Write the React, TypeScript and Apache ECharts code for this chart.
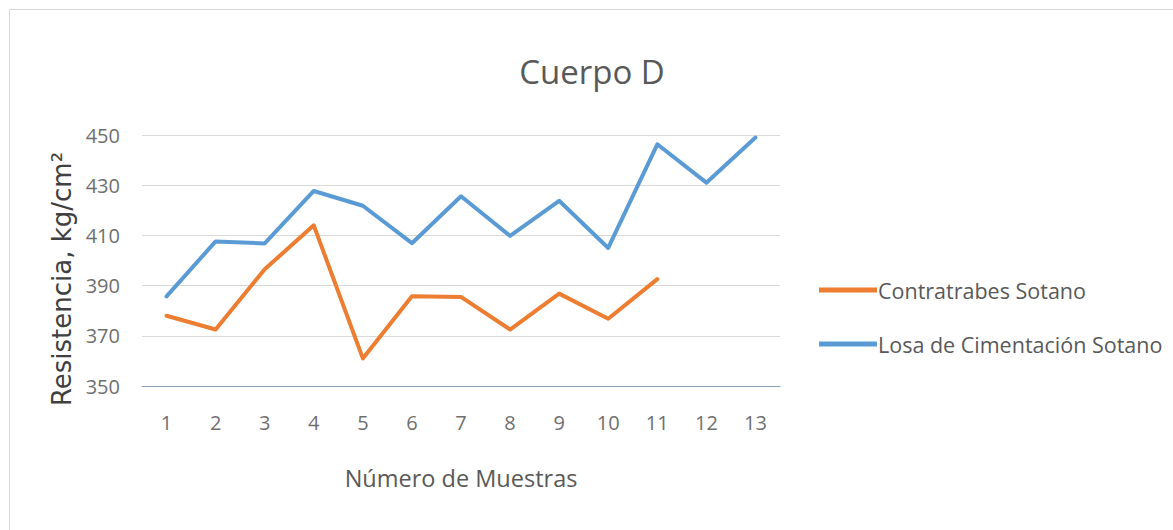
import React, { useEffect, useRef } from "react";
import * as echarts from "echarts";

const categories = ["1", "2", "3", "4", "5", "6", "7", "8", "9", "10", "11", "12", "13"];
const contratrabes = [378, 372.5, 396.5, 414, 361, 385.8, 385.5, 372.5, 386.8, 376.8, 392.6];
const losa = [385.7, 407.6, 406.8, 427.7, 421.8, 406.9, 425.6, 409.8, 423.8, 405, 446.3, 431, 449];
const yTicks = { min: 350, max: 450, interval: 20 };

const labelFont = "'Open Sans', 'Noto Sans', sans-serif";

export default function App() {
  const ref = useRef<HTMLDivElement>(null);
  useEffect(() => {
    if (!ref.current) return;
    const chart = echarts.init(ref.current, null, { renderer: "svg" });
    chart.setOption({
      animation: false,
      backgroundColor: "#ffffff",
      graphic: [
        {
          type: "rect",
          shape: { x: 9.5, y: 9.5, width: 1170, height: 530 },
          style: { fill: "none", stroke: "#d9d9d9", lineWidth: 1 },
          silent: true,
        },
        {
          type: "text",
          x: 592,
          y: 71,
          style: {
            text: "Cuerpo D",
            fontFamily: labelFont,
            fontSize: 33,
            fill: "#595959",
            textAlign: "center",
            textVerticalAlign: "middle",
          },
        },
        {
          type: "text",
          x: 62,
          y: 279,
          rotation: Math.PI / 2,
          style: {
            text: "Resistencia, kg/cm²",
            fontFamily: "'DejaVu Sans', Verdana, sans-serif",
            fontSize: 26,
            fill: "#404040",
            textAlign: "center",
            textVerticalAlign: "middle",
          },
        },
      ],
      grid: { left: 142, right: 393, top: 135, bottom: 144, containLabel: false },
      legend: {
        orient: "vertical",
        left: 814,
        top: 274,
        itemGap: 32,
        itemWidth: 58,
        itemHeight: 5,
        icon: "rect",
        textStyle: { fontFamily: labelFont, fontSize: 21.5, color: "#595959", padding: [0, 0, 0, -4] },
        data: ["Contratrabes Sotano", "Losa de Cimentación Sotano"],
      },
      xAxis: {
        type: "category",
        data: categories,
        boundaryGap: true,
        axisLine: { show: true, lineStyle: { color: "#8a9fb5", width: 1 } },
        axisTick: { show: false },
        axisLabel: { fontFamily: labelFont, fontSize: 20, color: "#6f6f6f", margin: 26 },
        name: "Número de Muestras",
        nameLocation: "middle",
        nameGap: 80,
        nameTextStyle: { fontFamily: labelFont, fontSize: 23.5, color: "#595959" },
      },
      yAxis: {
        type: "value",
        min: yTicks.min,
        max: yTicks.max,
        interval: yTicks.interval,
        axisLine: { show: false },
        axisTick: { show: false },
        splitLine: { lineStyle: { color: "#d9d9d9", width: 1 } },
        axisLabel: { fontFamily: labelFont, fontSize: 20, color: "#6f6f6f", margin: 22 },
      },
      series: [
        {
          name: "Contratrabes Sotano",
          type: "line",
          data: contratrabes,
          symbol: "none",
          lineStyle: { color: "#ED7D31", width: 4, cap: "round", join: "round" },
          itemStyle: { color: "#ED7D31" },
        },
        {
          name: "Losa de Cimentación Sotano",
          type: "line",
          data: losa,
          symbol: "none",
          lineStyle: { color: "#5B9BD5", width: 4, cap: "round", join: "round" },
          itemStyle: { color: "#5B9BD5" },
        },
      ],
    });
    return () => chart.dispose();
  }, []);
  return (
    <div
      ref={ref}
      style={{ position: "fixed", left: 0, top: 0, width: 1173, height: 530 }}
    />
  );
}
